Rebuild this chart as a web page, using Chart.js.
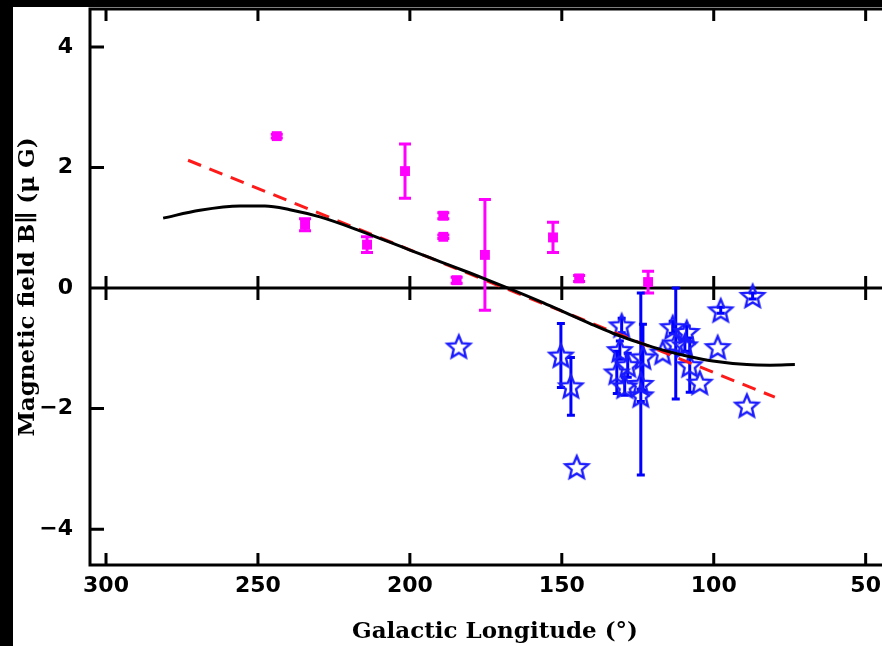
<!DOCTYPE html>
<html>
<head>
<meta charset="utf-8">
<script src="https://cdn.jsdelivr.net/npm/chart.js@4/dist/chart.umd.min.js"></script>
<style>
  html, body { margin: 0; padding: 0; background: #000; overflow: hidden; }
  #wrap { position: absolute; left: 13px; top: 7px; width: 900px; height: 639px; background: #fff; overflow: hidden; }
  #c { position: absolute; left: 0; top: -11px; }
</style>
</head>
<body>
<div id="wrap"><canvas id="c" width="900" height="650"></canvas></div>
<script>
// magenta points (squares) : longitude, B, error
const magLon = [243.8, 234.5, 214.1, 201.6, 189.0, 189.0, 184.6, 175.3, 152.9, 144.3, 121.6];
const magB   = [2.52, 1.05, 0.72, 1.94, 1.20, 0.85, 0.13, 0.55, 0.84, 0.16, 0.10];
const magErr = [0.03, 0.10, 0.13, 0.45, 0.05, 0.03, 0.05, 0.92, 0.25, 0.05, 0.18];

// blue points (stars)
const starLon = [183.9, 150.3, 147.0, 145.1, 130.3, 131.9, 130.9, 129.3, 128.3, 124.0, 123.3, 124.0,
                 116.8, 113.5, 112.5, 108.9, 109.5, 107.9, 104.6, 98.7, 97.7, 89.1, 87.2];
const starB   = [-0.97, -1.12, -1.63, -2.97, -0.62, -1.40, -1.03, -1.63, -1.28, -1.59, -1.15, -1.78,
                 -1.07, -0.65, -0.92, -0.73, -0.95, -1.28, -1.57, -0.98, -0.37, -1.95, -0.13];
const starErr = [0, 0.53, 0.48, 0, 0.12, 0.35, 0.15, 0.15, 0.2, 1.51, 0.55, 0.1,
                 0, 0.1, 0.92, 0.1, 0.1, 0.45, 0, 0, 0.05, 0, 0.05];

// model curve (solid black)
const modelLon = [281.2, 269.1, 255.9, 247.7, 239.5, 229.6, 216.4, 200.0, 190.1, 180.2, 167.7,
                  157.2, 149.6, 140.7, 133.2, 124.3, 116.7, 107.8, 100.3, 89.1, 81.5, 73.3];
const modelB   = [1.16, 1.29, 1.36, 1.36, 1.30, 1.18, 0.95, 0.63, 0.44, 0.25, 0.0,
                  -0.22, -0.39, -0.59, -0.75, -0.91, -1.03, -1.14, -1.21, -1.27, -1.28, -1.27];

// linear fit (red dashed)
const fitLon = [273.0, 79.9];
const fitB   = [2.12, -1.81];

const xTicks = [300, 250, 200, 150, 100, 50];
const yTicks = [-4, -2, 0, 2, 4];

const pts = (xs, ys) => xs.map((x, i) => ({ x: x, y: ys[i] }));

function makeStar(r, color) {
    const s = Math.ceil(r * 2 + 6);
    const c = document.createElement('canvas');
    c.width = s; c.height = s;
    const g = c.getContext('2d');
    g.beginPath();
    for (let k = 0; k < 10; k++) {
        const rr = k % 2 ? r * 0.45 : r;
        const a = -Math.PI / 2 + k * Math.PI / 5;
        g.lineTo(s / 2 + rr * Math.cos(a), s / 2 + 1 + rr * Math.sin(a));
    }
    g.closePath();
    g.strokeStyle = color;
    g.lineWidth = 2.4;
    g.lineJoin = 'miter';
    g.stroke();
    return c;
}

// axes frame, inward ticks, zero line, error bars
const framePlugin = {
    id: 'frame',
    beforeDatasetsDraw(chart) {
        const { ctx, chartArea: a, scales: { x, y } } = chart;
        const y0 = y.getPixelForValue(0);
        ctx.save();
        ctx.strokeStyle = '#000';
        ctx.lineWidth = 3;
        ctx.strokeRect(a.left, a.top, a.right - a.left, a.bottom - a.top);
        ctx.beginPath();
        ctx.moveTo(a.left, y0); ctx.lineTo(a.right, y0);
        xTicks.forEach(v => {
            const px = x.getPixelForValue(v);
            ctx.moveTo(px, a.top); ctx.lineTo(px, a.top + 12);
            ctx.moveTo(px, a.bottom); ctx.lineTo(px, a.bottom - 12);
            ctx.moveTo(px, y0 - 12); ctx.lineTo(px, y0 + 12);
        });
        yTicks.forEach(v => {
            const py = y.getPixelForValue(v);
            ctx.moveTo(a.left, py); ctx.lineTo(a.left + 14, py);
            ctx.moveTo(a.right, py); ctx.lineTo(a.right - 14, py);
        });
        ctx.stroke();

        // error bars
        chart.data.datasets.forEach(ds => {
            if (!ds.errs) return;
            ctx.strokeStyle = ds.barColor;
            ctx.lineWidth = 3;
            ctx.beginPath();
            ds.data.forEach((p, i) => {
                const e = ds.errs[i];
                if (!e) return;
                const px = x.getPixelForValue(p.x);
                const top = y.getPixelForValue(p.y + e);
                const bot = y.getPixelForValue(p.y - e);
                ctx.moveTo(px, top); ctx.lineTo(px, bot);
                ctx.moveTo(px - ds.cap, top); ctx.lineTo(px + ds.cap, top);
                ctx.moveTo(px - ds.cap, bot); ctx.lineTo(px + ds.cap, bot);
            });
            ctx.stroke();
        });
        ctx.restore();
    }
};

const tickFont = { family: 'DejaVu Sans', weight: 'bold', size: 22 };
const titleFont = { family: 'DejaVu Serif', weight: 'bold', size: 23 };

new Chart(document.getElementById('c'), {
    type: 'scatter',
    data: {
        datasets: [
            {
                data: pts(modelLon, modelB),
                showLine: true,
                borderColor: '#000',
                borderWidth: 3,
                pointRadius: 0,
                cubicInterpolationMode: 'monotone'
            },
            {
                data: pts(fitLon, fitB),
                showLine: true,
                borderColor: '#ff1a1a',
                borderWidth: 3,
                borderDash: [14, 9],
                pointRadius: 0
            },
            {
                data: pts(magLon, magB),
                errs: magErr,
                barColor: '#ff00ff',
                cap: 6,
                pointStyle: 'rect',
                pointRadius: 7,
                backgroundColor: '#ff00ff',
                borderColor: '#ff00ff',
                borderWidth: 0
            },
            {
                data: pts(starLon, starB),
                errs: starErr,
                barColor: '#0000ff',
                cap: 4,
                pointStyle: makeStar(12, '#1a1aff'),
                pointRadius: 12
            }
        ]
    },
    options: {
        responsive: false,
        devicePixelRatio: 1,
        animation: false,
        layout: { padding: 0 },
        plugins: { legend: { display: false }, tooltip: { enabled: false } },
        scales: {
            x: {
                type: 'linear',
                reverse: true,
                min: 38.7,
                max: 305.27,
                grid: { display: false, drawTicks: false },
                border: { display: false },
                ticks: { stepSize: 50, includeBounds: false, color: '#000', font: tickFont, padding: 8, maxRotation: 0 },
                title: { display: true, text: 'Galactic Longitude (°)', color: '#000', font: titleFont, padding: { top: 0, bottom: 0 } },
                afterFit(s) { s.height = 81; s.paddingLeft = 0; s.paddingRight = 0; }
            },
            y: {
                min: -4.594,
                max: 4.629,
                grid: { display: false, drawTicks: false },
                border: { display: false },
                ticks: {
                    stepSize: 2, includeBounds: false, color: '#000', font: tickFont, padding: 17,
                    callback: v => String(v).replace('-', '\u2212')
                },
                title: { display: true, text: 'Magnetic field B\u2225 (\u03bc G)', color: '#000', font: titleFont, padding: { top: 1, bottom: 0 } },
                afterFit(s) { s.width = 77; s.paddingTop = 0; s.paddingBottom = 0; }
            }
        }
    },
    plugins: [framePlugin]
});
</script>
</body>
</html>
